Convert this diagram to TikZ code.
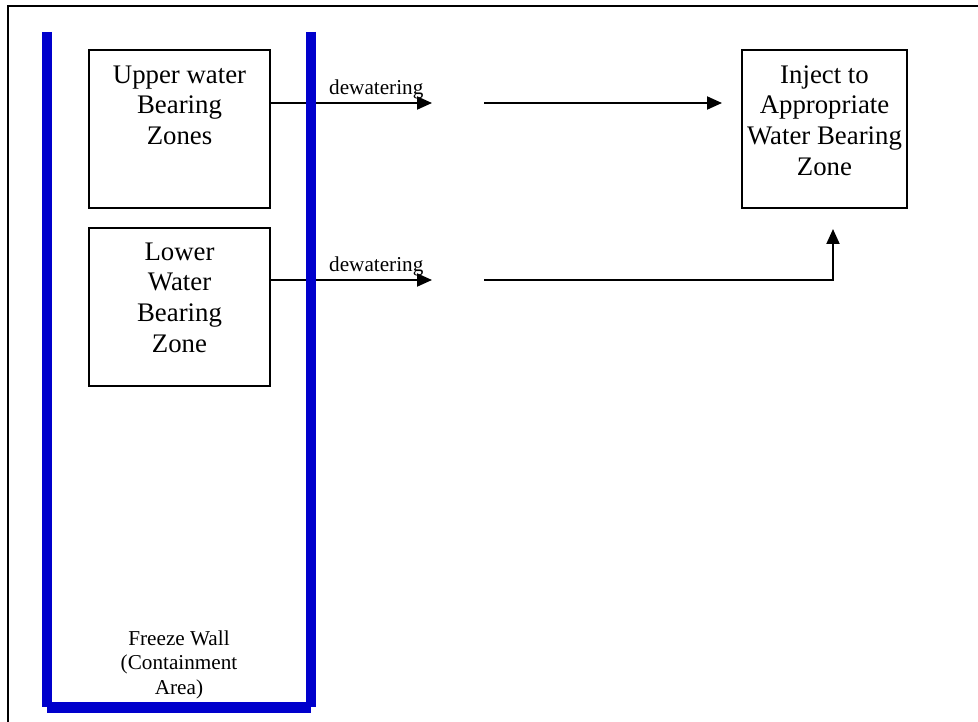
\documentclass[tikz,border=0pt]{standalone}
\usepackage{fontspec}
\setmainfont{Liberation Serif}
\usetikzlibrary{arrows.meta}
\definecolor{wallblue}{RGB}{0,0,204}
\tikzset{
  bigtext/.style={font=\fontsize{26.8}{30.6}\selectfont, align=center, inner sep=0pt, anchor=north},
  smalltext/.style={font=\fontsize{21.2}{24.5}\selectfont, align=center, inner sep=0pt},
  zonebox/.style={draw, line width=2pt, inner sep=0pt},
  arr/.style={line width=2pt, -{Triangle[length=15pt,width=13pt]}},
  wall/.style={line width=10.5pt, draw=wallblue},
  frame/.style={line width=2pt}
}
\begin{document}
\begin{tikzpicture}[x=1pt,y=-1pt]
\useasboundingbox (0,0) rectangle (978,722);
% frame
\coordinate (f0) at (8,6);
\coordinate (f1) at (978,6);
\coordinate (f2) at (8,722);
\draw[frame] (f1) -- (f0) -- (f2);
% boxes
\node[zonebox, minimum width=181pt, minimum height=158pt] (upper) at (179.5,129) {};
\node[zonebox, minimum width=181pt, minimum height=158pt] (lower) at (179.5,307) {};
\node[zonebox, minimum width=165pt, minimum height=158pt] (inject) at (824.5,129) {};
\node[bigtext] (uppertxt) at (179.5,61.6) {\strut Upper water\\Bearing\\Zones};
\node[bigtext] (lowertxt) at (179.5,238.6) {\strut Lower\\Water\\Bearing\\Zone};
\node[bigtext] (injecttxt) at (824.5,61.6) {\strut Inject to\\Appropriate\\Water Bearing\\Zone};
% arrows
\coordinate (u1) at (432,103);
\coordinate (u2) at (484,103);
\coordinate (l1) at (432,280);
\coordinate (l2) at (484,280);
\draw[arr] (upper.east |- u1) -- node[smalltext, pos=0.654, anchor=base, yshift=8.7pt] (dw1) {dewatering} (u1);
\draw[arr] (lower.east |- l1) -- node[smalltext, pos=0.654, anchor=base, yshift=8.7pt] (dw2) {dewatering} (l1);
\draw[arr] (u2) -- ([xshift=-19pt]inject.west |- u2);
\draw[arr] (l2) -| ([shift={(8.5pt,-20pt)}]inject.south);
% freeze wall
\coordinate (w1) at (47,32);
\coordinate (w2) at (47,707);
\coordinate (w3) at (311,707.5);
\coordinate (w4) at (311,32);
\draw[wall] (w1) -- (w2);
\draw[wall] (w4) -- (311,707);
\draw[wall] (47,707.5) -- (w3);
\node[smalltext, anchor=north] (wall) at (179,627.9) {\strut Freeze Wall\\(Containment\\Area)};
\end{tikzpicture}
\end{document}
